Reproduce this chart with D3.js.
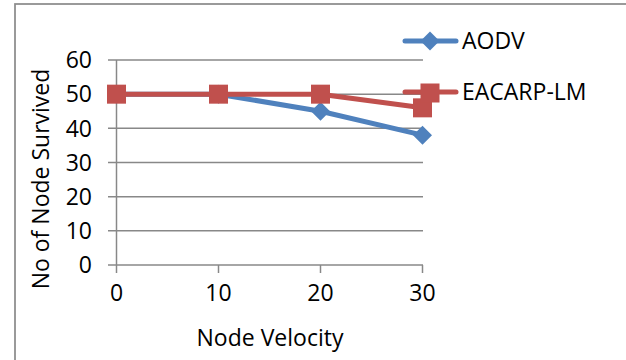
<!DOCTYPE html>
<html>
<head>
<meta charset="utf-8">
<script src="https://cdn.jsdelivr.net/npm/d3@7"></script>
<style>
  html, body { margin: 0; padding: 0; background: #fff; }
  svg { display: block; }
  text { font-family: "Open Sans", Lato, sans-serif; fill: #000; }
</style>
</head>
<body>
<svg id="chart" width="626" height="360"></svg>
<script>
// Node survival vs. node velocity
const velocities = [0, 10, 20, 30];
const aodv = [50, 50, 45, 38];
const eacarp = [50, 50, 50, 46];
const yTicks = [0, 10, 20, 30, 40, 50, 60];
const seriesNames = ["AODV", "EACARP-LM"];
const seriesColors = ["#4F81BD", "#C0504D"];

const svg = d3.select("#chart");
const W = 626, H = 360;

// outer chart frame (clipped on right and bottom)
svg.append("rect")
  .attr("x", 15).attr("y", 4)
  .attr("width", W + 20).attr("height", H + 20)
  .attr("fill", "#fff")
  .attr("stroke", "#8c8c8c").attr("stroke-width", 1.75);

const x = d3.scalePoint().domain(velocities).range([116.5, 422.5]);
const y = d3.scaleLinear().domain([0, 60]).range([265, 60]);

const gridColor = "#888";
const fontSize = 23;

// horizontal gridlines with left tick overhang
svg.append("g")
  .selectAll("line")
  .data(yTicks)
  .join("line")
  .attr("x1", 108).attr("x2", 423)
  .attr("y1", d => y(d)).attr("y2", d => y(d))
  .attr("stroke", gridColor).attr("stroke-width", 1.5);

// y axis line (extends slightly below zero)
svg.append("line")
  .attr("x1", x(0)).attr("x2", x(0))
  .attr("y1", y(60)).attr("y2", y(0) + 8)
  .attr("stroke", gridColor).attr("stroke-width", 1.5);

// x axis ticks
svg.append("g")
  .selectAll("line")
  .data(velocities.slice(1))
  .join("line")
  .attr("x1", d => x(d)).attr("x2", d => x(d))
  .attr("y1", y(0)).attr("y2", y(0) + 8)
  .attr("stroke", gridColor).attr("stroke-width", 1.5);

// y tick labels
svg.append("g")
  .selectAll("text")
  .data(yTicks)
  .join("text")
  .attr("x", 92).attr("y", d => y(d))
  .attr("dy", "0.36em")
  .attr("text-anchor", "end")
  .attr("font-size", fontSize)
  .text(d => d);

// x tick labels
svg.append("g")
  .selectAll("text")
  .data(velocities)
  .join("text")
  .attr("x", d => x(d)).attr("y", 293)
  .attr("dy", "0.36em")
  .attr("text-anchor", "middle")
  .attr("font-size", fontSize)
  .text(d => d);

// axis titles
svg.append("text")
  .attr("x", 270).attr("y", 338)
  .attr("dy", "0.36em")
  .attr("text-anchor", "middle")
  .attr("font-size", fontSize)
  .text("Node Velocity");

svg.append("text")
  .attr("transform", "translate(41,179) rotate(-90)")
  .attr("dy", "0.36em")
  .attr("text-anchor", "middle")
  .attr("font-size", fontSize)
  .text("No of Node Survived");

const line = d3.line().x((d, i) => x(velocities[i])).y(d => y(d));

const diamond = (cx, cy, r) =>
  `M${cx},${cy - r}L${cx + r},${cy}L${cx},${cy + r}L${cx - r},${cy}Z`;

// AODV series
svg.append("path")
  .datum(aodv)
  .attr("d", line)
  .attr("fill", "none")
  .attr("stroke", seriesColors[0]).attr("stroke-width", 5)
  .attr("stroke-linejoin", "round").attr("stroke-linecap", "round");
svg.append("g")
  .selectAll("path")
  .data(aodv)
  .join("path")
  .attr("d", (d, i) => diamond(x(velocities[i]), y(d), 9.5))
  .attr("fill", seriesColors[0]);

// EACARP-LM series
svg.append("path")
  .datum(eacarp)
  .attr("d", line)
  .attr("fill", "none")
  .attr("stroke", seriesColors[1]).attr("stroke-width", 5)
  .attr("stroke-linejoin", "round").attr("stroke-linecap", "round");
svg.append("g")
  .selectAll("rect")
  .data(eacarp)
  .join("rect")
  .attr("x", (d, i) => x(velocities[i]) - 9.5)
  .attr("y", d => y(d) - 9.5)
  .attr("width", 19).attr("height", 19)
  .attr("fill", seriesColors[1]);

// legend
const legendY = [41, 92];
const lg = svg.append("g");
seriesNames.forEach((name, i) => {
  const ly = legendY[i];
  lg.append("line")
    .attr("x1", 405).attr("x2", 456)
    .attr("y1", ly).attr("y2", ly)
    .attr("stroke", seriesColors[i]).attr("stroke-width", 5)
    .attr("stroke-linecap", "round");
  if (i === 0) {
    lg.append("path").attr("d", diamond(430, ly, 9.5)).attr("fill", seriesColors[i]);
  } else {
    lg.append("rect")
      .attr("x", 420.5).attr("y", ly - 8.5)
      .attr("width", 19).attr("height", 19)
      .attr("fill", seriesColors[i]);
  }
  lg.append("text")
    .attr("x", 462).attr("y", ly)
    .attr("dy", "0.36em")
    .attr("font-size", fontSize)
    .text(name);
});
</script>
</body>
</html>
